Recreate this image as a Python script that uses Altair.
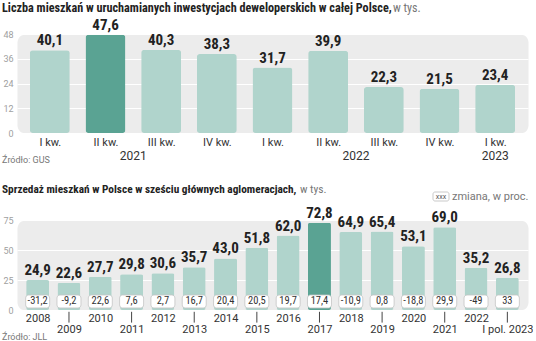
import json
import altair as alt
import pandas as pd

# ---------------- data ----------------
quarters = ["I kw.", "II kw.", "III kw.", "IV kw.", "I kw.", "II kw.", "III kw.", "IV kw.", "I kw."]
q_years = ["2021", "2021", "2021", "2021", "2022", "2022", "2022", "2022", "2023"]
q_values = [40.1, 47.6, 40.3, 38.3, 31.7, 39.9, 22.3, 21.5, 23.4]
q_highlight = [False, True, False, False, False, False, False, False, False]

years = ["2008", "2009", "2010", "2011", "2012", "2013", "2014", "2015",
         "2016", "2017", "2018", "2019", "2020", "2021", "2022", "I pol. 2023"]
sales = [24.9, 22.6, 27.7, 29.8, 30.6, 35.7, 43.0, 51.8,
         62.0, 72.8, 64.9, 65.4, 53.1, 69.0, 35.2, 26.8]
changes = ["-31,2", "-9,2", "22,6", "7,6", "2,7", "16,7", "20,4", "20,5",
           "19,7", "17,4", "-10,9", "0,8", "-18,8", "29,9", "-49", "33"]
s_highlight = [y == "2017" for y in years]

y1_ticks = [0, 12, 24, 36, 48]
y2_ticks = [0, 25, 50, 75]

title1_bold = "Liczba mieszkań w uruchamianych inwestycjach deweloperskich w całej Polsce,"
title2_bold = "Sprzedaż mieszkań w Polsce w sześciu głównych aglomeracjach,"
title_unit = "w tys."
source1 = "Źródło: GUS"
source2 = "Źródło: JLL"
legend_box = "xxx"
legend_text = "zmiana, w proc."

# ---------------- style ----------------
LIGHT = "#b0d4cc"
DARK = "#5aa393"
BG = "#ececec"
TXT = "#222222"
GREY = "#777777"
COND = "Roboto Condensed, DejaVu Sans Condensed, Roboto"
W = 511
H1 = 99
H2 = 90

df1 = pd.DataFrame({"i": list(range(len(q_values))), "q": quarters, "year": q_years,
                    "v": q_values, "hl": q_highlight})
df2 = pd.DataFrame({"i": list(range(len(sales))), "year": years, "v": sales,
                    "ch": changes, "hl": s_highlight})
one = pd.DataFrame({"k": [0]})

fmt = "replace(format(datum.v, '.1f'), '.', ',')"

# ---------------- top chart ----------------
x1 = alt.X("i:Q", scale=alt.Scale(domain=[-0.5, len(q_values) - 0.5], nice=False, zero=False),
           axis=alt.Axis(values=list(range(len(q_values))), tickCount=len(q_values),
                         title=None, domain=False, ticks=False,
                         grid=False, labelFlush=False, labelOverlap=False, labelPadding=3,
                         labelFontSize=11, labelColor="#333333",
                         labelExpr=json.dumps(quarters) + "[datum.value]"))
y1 = alt.Y("v:Q", scale=alt.Scale(domain=[0, 48], nice=False),
           axis=alt.Axis(values=y1_ticks, tickCount=len(y1_ticks), title=None, domain=False,
                         ticks=False, gridColor="white", gridWidth=1, labelColor="#a0a0a0",
                         labelOverlap=False, labelFlush=False,
                         labelFontSize=9, labelPadding=4))

base1 = alt.Chart(df1)
bars1 = base1.mark_bar(width=40, cornerRadius=3).encode(
    x=x1, y=y1,
    color=alt.condition(alt.datum.hl, alt.value(DARK), alt.value(LIGHT)))
vals1 = base1.transform_calculate(lab=fmt).mark_text(
    baseline="bottom", dy=-2, fontSize=15, fontWeight="bold", font=COND, color=TXT
).encode(x="i:Q", y="v:Q", text="lab:N")
years1 = base1.transform_aggregate(c="mean(i)", groupby=["year"]).mark_text(
    baseline="middle", fontSize=12, color="#333333"
).encode(x="c:Q", y=alt.value(H1 + 23), text="year:N")
t1a = alt.Chart(one).mark_text(align="left", baseline="middle", fontSize=12.2,
                               fontWeight="bold", font=COND, color=TXT).encode(
    x=alt.value(-15), y=alt.value(-26), text=alt.value(title1_bold))
t1b = alt.Chart(one).mark_text(align="left", baseline="middle", fontSize=12,
                               font=COND, color=GREY).encode(
    x=alt.value(376), y=alt.value(-26), text=alt.value(title_unit))
src1 = alt.Chart(one).mark_text(align="left", baseline="middle", fontSize=9,
                                color=GREY).encode(
    x=alt.value(-15), y=alt.value(H1 + 27), text=alt.value(source1))

top = alt.layer(bars1, vals1, years1, t1a, t1b, src1).properties(width=W, height=H1)

# ---------------- bottom chart ----------------
x2 = alt.X("i:Q", scale=alt.Scale(domain=[-0.5, len(sales) - 0.5], nice=False, zero=False),
           axis=alt.Axis(values=list(range(len(sales))), tickCount=len(sales),
                         title=None, domain=False, ticks=False,
                         grid=False, labelFlush=False, labelOverlap=False,
                         labelFontSize=11, labelColor="#333333",
                         labelPadding={"condition": {"test": "datum.value % 2 == 1", "value": 13},
                                       "value": 2},
                         labelExpr=json.dumps(years) + "[datum.value]"))
y2 = alt.Y("v:Q", scale=alt.Scale(domain=[0, 75], nice=False),
           axis=alt.Axis(values=y2_ticks, tickCount=len(y2_ticks), title=None, domain=False,
                         ticks=False, gridColor="white", gridWidth=1, labelColor="#a0a0a0",
                         labelOverlap=False, labelFlush=False,
                         labelFontSize=9, labelPadding=4))

base2 = alt.Chart(df2)
bars2 = base2.mark_bar(width=23, cornerRadius=2).encode(
    x=x2, y=y2,
    color=alt.condition(alt.datum.hl, alt.value(DARK), alt.value(LIGHT)))
boxes2 = base2.mark_bar(width=24, cornerRadius=3, fill="white", stroke="#c4c4c4",
                        strokeWidth=0.8).encode(
    x="i:Q", y=alt.datum(1.7), y2=alt.datum(12.5))
chg2 = base2.mark_text(baseline="middle", fontSize=10.5, font=COND, color="#333333").encode(
    x="i:Q", y=alt.datum(7.1), text="ch:N")
vals2 = base2.transform_calculate(lab=fmt).mark_text(
    baseline="bottom", dy=-2, fontSize=15, fontWeight="bold", font=COND, color=TXT
).encode(x="i:Q", y="v:Q", text="lab:N")
ticks2 = base2.transform_filter("datum.i % 2 == 1").mark_rule(
    color="#444444", strokeWidth=1).encode(
    x="i:Q", y=alt.datum(-1.5), y2=alt.datum(-10.5))
t2a = alt.Chart(one).mark_text(align="left", baseline="middle", fontSize=11.3,
                               fontWeight="bold", font=COND, color=TXT).encode(
    x=alt.value(-15), y=alt.value(-30), text=alt.value(title2_bold))
t2b = alt.Chart(one).mark_text(align="left", baseline="middle", fontSize=11.5,
                               font=COND, color=GREY).encode(
    x=alt.value(283), y=alt.value(-30), text=alt.value(title_unit))
leg_box = alt.Chart(one).mark_rect(fill="white", stroke="#bbbbbb", strokeWidth=0.8,
                                   cornerRadius=2).encode(
    x=alt.value(416), x2=alt.value(432), y=alt.value(-28), y2=alt.value(-19))
leg_xxx = alt.Chart(one).mark_text(align="center", baseline="middle", fontSize=7,
                                   color="#555555").encode(
    x=alt.value(424), y=alt.value(-23.5), text=alt.value(legend_box))
leg_txt = alt.Chart(one).mark_text(align="left", baseline="middle", fontSize=11,
                                   color=GREY).encode(
    x=alt.value(435), y=alt.value(-23.5), text=alt.value(legend_text))
src2 = alt.Chart(one).mark_text(align="left", baseline="middle", fontSize=9,
                                color=GREY).encode(
    x=alt.value(-15), y=alt.value(H2 + 27), text=alt.value(source2))

bottom = alt.layer(bars2, boxes2, chg2, vals2, ticks2, t2a, t2b, leg_box, leg_xxx, leg_txt,
                   src2).properties(width=W, height=H2)

chart = alt.vconcat(top, bottom, spacing=87, bounds="flush").properties(
    padding={"left": 2, "top": 2, "right": 0, "bottom": 0}
).configure_view(fill=BG, cornerRadius=8, strokeOpacity=0).configure_axis(
    labelFont="Roboto"
).configure_text(font="Roboto")

chart.save("out.html", embed_options={"renderer": "svg", "actions": False})
